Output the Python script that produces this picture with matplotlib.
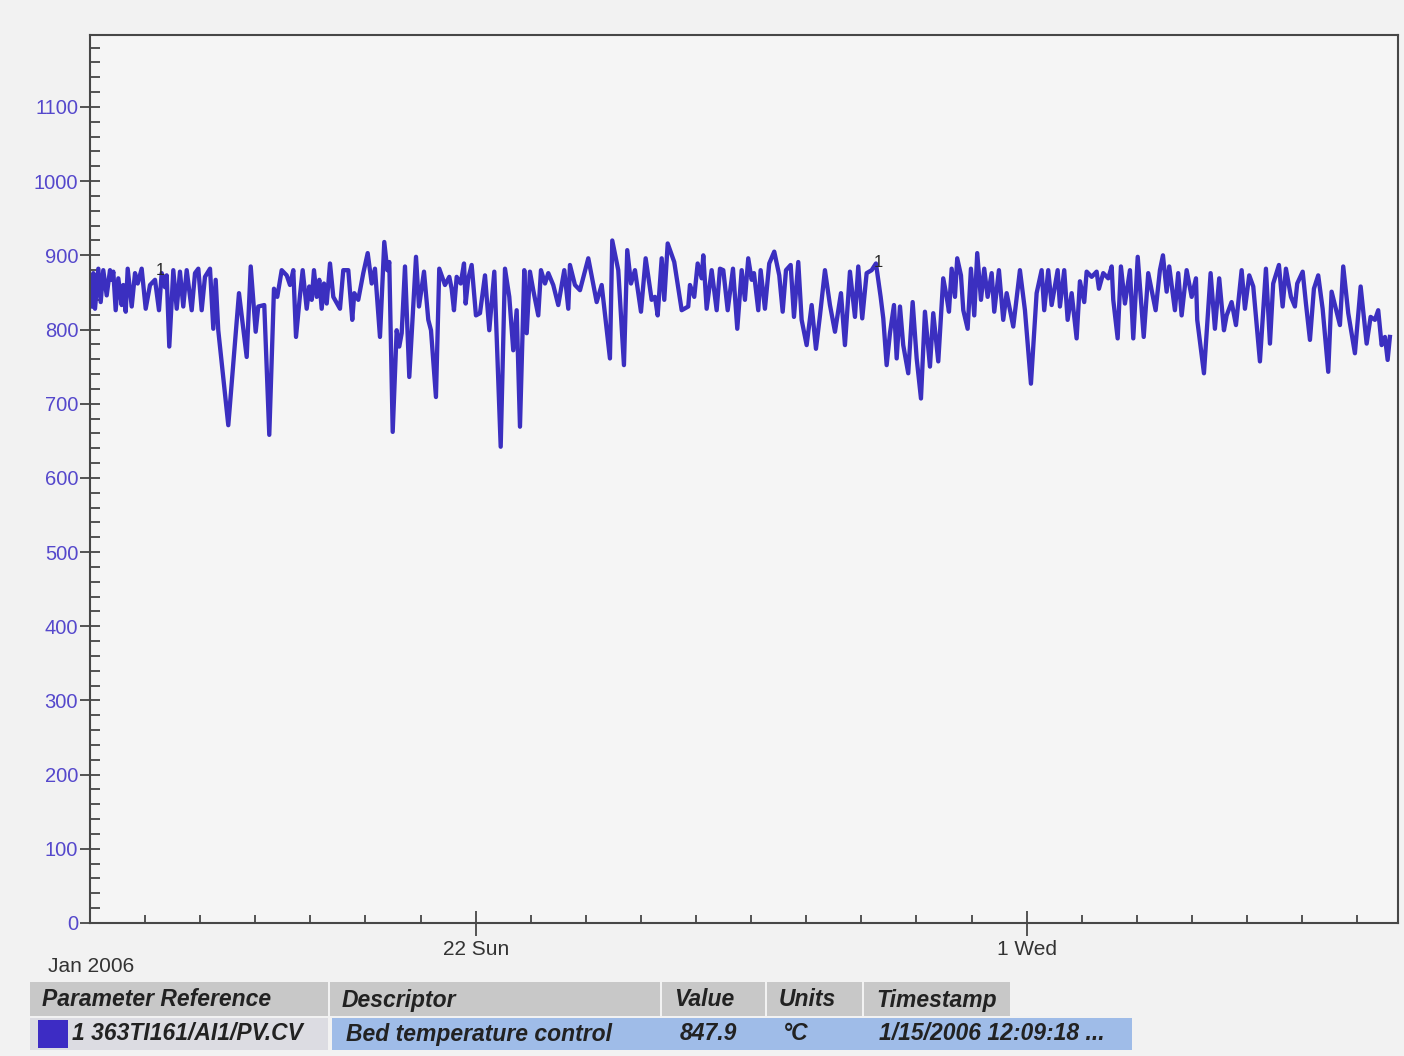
# Trend chart - bed temperature (363TI161), Jan/Feb 2006
import matplotlib
matplotlib.use('Agg')
import matplotlib.pyplot as plt
import matplotlib.dates as mdates
from matplotlib.patches import Rectangle
from matplotlib.ticker import MultipleLocator, FuncFormatter
import pandas as pd

plt.rcParams['font.family'] = ['Liberation Sans', 'DejaVu Sans']

start = pd.Timestamp('2006-01-15 00:00')
span_days = 23.74

day_offset = [
    0.031, 0.060, 0.091, 0.151, 0.194, 0.241, 0.303, 0.363, 0.394, 0.423, 0.466, 0.514, 0.575, 0.604, 0.648, 0.684,
    0.757, 0.817, 0.866, 0.938, 1.011, 1.089, 1.180, 1.252, 1.301, 1.361, 1.392, 1.439, 1.512, 1.574, 1.633, 1.693,
    1.755, 1.846, 1.906, 1.966, 2.027, 2.087, 2.178, 2.238, 2.281, 2.328, 2.510, 2.704, 2.844, 2.917, 3.007, 3.054,
    3.163, 3.254, 3.339, 3.399, 3.479, 3.570, 3.630, 3.690, 3.739, 3.811,
    3.860, 3.933, 3.980, 4.024, 4.065, 4.114, 4.162, 4.205, 4.247, 4.296, 4.356, 4.416, 4.537, 4.597, 4.688, 4.760,
    4.797, 4.869, 4.960, 5.040, 5.113, 5.172, 5.263, 5.341, 5.396, 5.432, 5.494, 5.566, 5.613, 5.657, 5.717, 5.795,
    5.917, 5.971, 6.062, 6.140, 6.189, 6.279, 6.339, 6.443, 6.521, 6.564, 6.606, 6.655, 6.728, 6.788, 6.818, 6.866,
    6.927, 7.005, 7.078, 7.169, 7.247, 7.338, 7.454, 7.532, 7.610, 7.682, 7.744,
    7.804, 7.882, 7.926, 7.985, 8.045, 8.136, 8.185, 8.258, 8.318, 8.408, 8.499, 8.608, 8.681, 8.711, 8.802, 8.893,
    9.044, 9.196, 9.287, 9.437, 9.479, 9.588, 9.691, 9.751, 9.819, 9.891, 10.000, 10.085, 10.194, 10.254, 10.303,
    10.376, 10.423, 10.485, 10.604, 10.739, 10.858, 10.889, 10.967, 11.029, 11.102, 11.131, 11.192, 11.283, 11.374,
    11.434, 11.494, 11.574,
    11.670, 11.748, 11.828, 11.887, 11.947, 12.009, 12.051, 12.129, 12.172, 12.250, 12.328, 12.419, 12.510, 12.572,
    12.632, 12.717, 12.777, 12.855, 12.916, 13.007, 13.098, 13.176, 13.249, 13.339, 13.430, 13.521, 13.630, 13.702,
    13.793, 13.884, 13.944, 14.016, 14.096, 14.187, 14.265, 14.350, 14.398, 14.459, 14.519, 14.592, 14.641, 14.701,
    14.760, 14.851, 14.931, 15.004, 15.082, 15.154, 15.245, 15.305, 15.396, 15.486, 15.548,
    15.590, 15.639, 15.699, 15.740, 15.808, 15.850, 15.929, 15.989, 16.049, 16.103, 16.171, 16.230, 16.292, 16.365,
    16.412, 16.497, 16.575, 16.637, 16.757, 16.878, 16.969, 17.078, 17.181, 17.272, 17.319, 17.392, 17.454, 17.563,
    17.604, 17.682, 17.744, 17.817, 17.907, 17.967, 18.045, 18.089, 18.180, 18.270, 18.312, 18.390, 18.481, 18.543,
    18.572, 18.652, 18.711, 18.784, 18.875, 18.935, 19.016, 19.125, 19.207, 19.341, 19.419,
    19.474, 19.541, 19.588, 19.691, 19.751, 19.813, 19.904, 19.995, 20.073, 20.096, 20.218, 20.339, 20.417, 20.495,
    20.581, 20.630, 20.720, 20.799, 20.902, 20.962, 21.040, 21.113, 21.234, 21.343, 21.416, 21.475, 21.579, 21.646,
    21.706, 21.797, 21.869, 21.911, 22.010, 22.069, 22.142, 22.214, 22.292, 22.372, 22.474, 22.535, 22.686, 22.746,
    22.837, 22.958, 23.062, 23.171, 23.243, 23.321, 23.381, 23.443, 23.503, 23.552, 23.593,
]
bed_temp = [
    831, 876, 828, 882, 837, 880, 846, 880, 867, 878, 826, 869, 833, 860, 824, 882,
    831, 876, 862, 882, 828, 860, 867, 826, 876, 857, 873, 777, 880, 828, 878, 831,
    880, 826, 876, 882, 826, 871, 882, 801, 867, 799, 671, 849, 763, 885, 797, 831,
    833, 658, 855, 844, 880, 873, 860, 880, 790, 846,
    880, 828, 858, 840, 880, 844, 867, 828, 862, 835, 889, 844, 828, 880, 880, 813,
    849, 840, 876, 903, 862, 882, 790, 918, 880, 891, 662, 799, 777, 795, 885, 736,
    898, 831, 878, 813, 799, 709, 882, 860, 871, 855, 826, 871, 862, 889, 835, 869,
    887, 819, 822, 873, 799, 878, 642, 882, 844, 772, 826,
    669, 880, 795, 878, 853, 819, 880, 862, 876, 860, 833, 880, 828, 887, 860, 853,
    896, 837, 860, 761, 920, 880, 752, 907, 862, 880, 824, 896, 840, 844, 819,
    896, 840, 916, 891, 826, 831, 860, 844, 889, 869, 900, 828, 880, 826,
    882, 880, 826,
    882, 801, 880, 840, 896, 867, 876, 826, 880, 828, 889, 905, 873, 824,
    880, 887, 817, 891, 813, 779, 833, 774, 819, 880, 833, 797, 849, 779,
    878, 817, 885, 815, 876, 880, 889, 844, 815, 752, 795, 833, 761, 831,
    779, 741, 837, 761, 707, 824, 750, 822, 757, 869, 844,
    824, 882, 844, 896, 873, 826, 801, 882, 819, 903, 840, 882, 844, 876,
    824, 880, 813, 849, 804, 880, 826, 727, 849, 880, 826, 880, 833, 880,
    831, 880, 813, 849, 788, 865, 837, 878, 871, 878, 855, 876, 869, 885,
    840, 788, 885, 835, 880, 788, 898, 790, 876, 826, 880,
    900, 851, 885, 826, 876, 819, 880, 844, 869, 813, 741, 876, 801, 869,
    799, 819, 837, 806, 880, 828, 873, 858, 757, 882, 781, 862, 887, 831,
    882, 844, 831, 862, 878, 835, 786, 855, 873, 828, 743, 851, 806, 885,
    822, 768, 858, 781, 817, 813, 826, 779, 790, 759, 790,
]

# trace number labels drawn on the line (day, value)
marker_days = [1.27, 14.30]
marker_vals = [880, 891]

# legend table
col_names = ['Parameter Reference', 'Descriptor', 'Value', 'Units', 'Timestamp']
row_values = ['1 363TI161/AI1/PV.CV', 'Bed temperature control', '847.9', '\u00b0C', '1/15/2006 12:09:18 ...']

LINE = '#3b2fc0'
FRAME = '#474747'

fig = plt.figure(figsize=(14.04, 10.56), dpi=100, facecolor='#f2f2f2')
ax = fig.add_axes([90/1404, 1-923/1056, (1398-90)/1404, (923-35)/1056])
ax.set_facecolor('#f5f5f5')

times = start + pd.to_timedelta(day_offset, unit='D')
ax.plot(times, bed_temp, color=LINE, lw=3.1)

for d, v in zip(marker_days, marker_vals):
    ax.text(start + pd.Timedelta(days=d), v, '1', fontsize=12, color='#2a2a2a',
            ha='center', va='center')

ax.set_ylim(0, 1197)
ax.set_xlim(start, start + pd.Timedelta(days=span_days))

ax.yaxis.set_major_locator(MultipleLocator(100))
ax.yaxis.set_minor_locator(MultipleLocator(20))
ax.xaxis.set_major_locator(mdates.DayLocator(bymonthday=[1, 22]))
ax.xaxis.set_minor_locator(mdates.DayLocator())
ax.xaxis.set_major_formatter(FuncFormatter(
    lambda x, pos: f"{mdates.num2date(x).day} {mdates.num2date(x):%a}"))

ax.tick_params(axis='y', which='major', direction='inout', length=14, width=1.3,
               color=FRAME, labelcolor='#5548cc', labelsize=14.5, pad=1.5)
ax.tick_params(axis='y', which='minor', direction='in', length=7, width=1.3, color=FRAME)
ax.tick_params(axis='x', which='major', direction='inout', length=18, width=1.3,
               color=FRAME, labelcolor='#333333', labelsize=15, pad=3)
ax.tick_params(axis='x', which='minor', direction='in', length=6, width=1.3, color=FRAME)

for s in ax.spines.values():
    s.set_color(FRAME)
    s.set_linewidth(1.5)

fig.text(48/1404, 1-966/1056, 'Jan 2006', fontsize=15, color='#333333', ha='left', va='center')

# table under the chart, laid out in figure pixels
tab = fig.add_axes([0, 0, 1, 1])
tab.set_xlim(0, 1404)
tab.set_ylim(1056, 0)
tab.axis('off')
tab.set_zorder(-1)

col_edges = [30, 330, 662, 767, 864, 1012]
for i, name in enumerate(col_names):
    x0, x1 = col_edges[i], col_edges[i+1]
    tab.add_patch(Rectangle((x0, 982), x1 - x0 - 2, 34, fc='#c8c8c8', ec='none'))
    tab.text(x0 + 12, 1000, name, fontsize=16.5, fontweight='bold', fontstyle='italic',
             color='#222222', ha='left', va='center')

tab.add_patch(Rectangle((30, 1018), 298, 32, fc='#dcdce2', ec='none'))
tab.add_patch(Rectangle((332, 1018), 800, 32, fc='#9fbce8', ec='none'))
tab.add_patch(Rectangle((38, 1020), 30, 28, fc='#3d2cc4', ec='none'))

text_x = [72, 346, 680, 783, 879]
for x, val in zip(text_x, row_values):
    tab.text(x, 1034, val, fontsize=16.5, fontweight='bold', fontstyle='italic',
             color='#222222', ha='left', va='center')

plt.savefig('out.png', dpi=100, facecolor=fig.get_facecolor())
